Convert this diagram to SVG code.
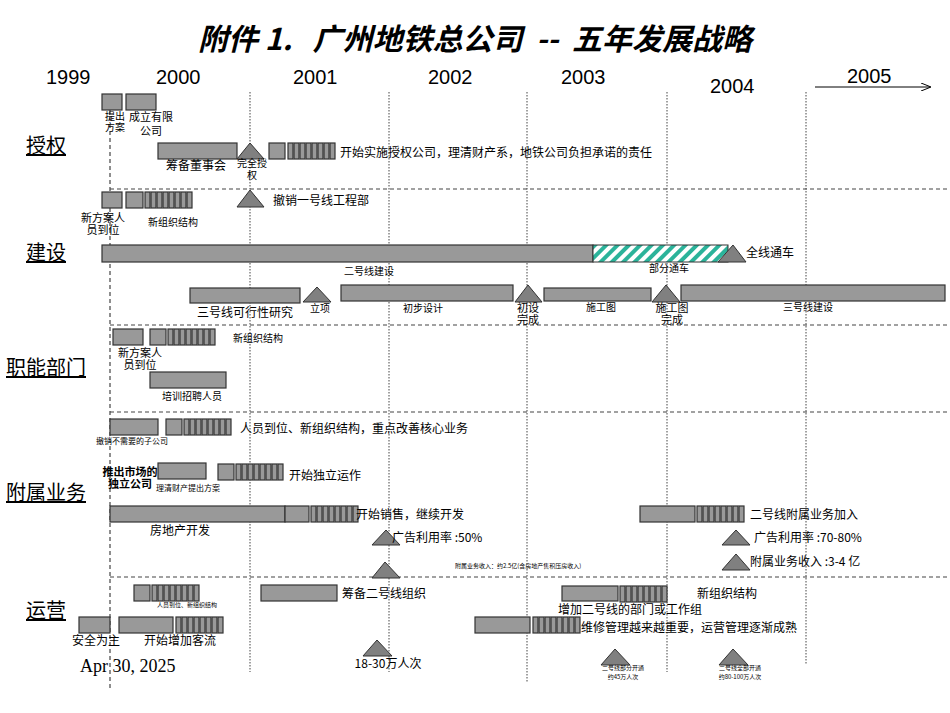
<svg xmlns="http://www.w3.org/2000/svg" xmlns:xlink="http://www.w3.org/1999/xlink" width="950" height="713" viewBox="0 0 950 713">
<style>
text{font-family:"Noto Sans CJK SC","Noto Sans",sans-serif;fill:#000}
.b{fill:#999;stroke:#333;stroke-width:1.2}
.t{fill:#808080;stroke:#333;stroke-width:1}
.dot{stroke:#444;stroke-width:1;stroke-dasharray:1.5,1.5}
.dash{stroke:#444;stroke-width:1.2;stroke-dasharray:4,3}
.s12{font-size:12px}.s11{font-size:11px}.s10{font-size:10px}.s8{font-size:8px}.s6{font-size:6px}
.yr{font-family:"Liberation Sans",Arial,sans-serif;font-size:20px}
.cat{font-size:20px;text-decoration:underline}
.m{text-anchor:middle}
</style>
<defs>
<g id="st"><rect class="b" x="0" y="0" width="5" height="16"/><rect class="b" x="6" y="0" width="5" height="16"/><rect class="b" x="12" y="0" width="5" height="16"/><rect class="b" x="18" y="0" width="5" height="16"/><rect class="b" x="24" y="0" width="5" height="16"/><rect class="b" x="30" y="0" width="5" height="16"/><rect class="b" x="36" y="0" width="5" height="16"/><rect class="b" x="42" y="0" width="5" height="16"/></g>
<pattern id="h" width="8" height="8" patternUnits="userSpaceOnUse" patternTransform="rotate(45)"><rect width="8" height="8" fill="#fff"/><rect width="4" height="8" fill="#2bb39a"/></pattern>
<marker id="ar" markerWidth="10" markerHeight="8" refX="9" refY="4" orient="auto"><path d="M0,0 L10,4 L0,8" fill="none" stroke="#000"/></marker>
</defs>
<text x="475" y="50" class="m" style="font-size:30px;font-weight:bold;font-style:italic;white-space:pre">附件 1.   广州地铁总公司  --  五年发展战略</text>
<g id="years">
<text class="yr" x="46" y="84">1999</text><text class="yr" x="156" y="84">2000</text><text class="yr" x="293" y="84">2001</text><text class="yr" x="428" y="84">2002</text><text class="yr" x="561" y="84">2003</text><text class="yr" x="710" y="93">2004</text><text class="yr" x="847" y="83">2005</text>
</g>
<g id="connectors">
<line x1="815" y1="87" x2="930" y2="87" stroke="#000" marker-end="url(#ar)"/>
<line class="dot" x1="250" y1="92" x2="250" y2="672"/><line class="dot" x1="389" y1="92" x2="389" y2="672"/><line class="dot" x1="527" y1="92" x2="527" y2="682"/><line class="dot" x1="667" y1="92" x2="667" y2="672"/><line class="dot" x1="806" y1="92" x2="806" y2="665"/>
<line class="dash" x1="110" y1="110" x2="110" y2="690"/>
<line class="dash" x1="110" y1="189" x2="950" y2="189"/><line class="dash" x1="110" y1="325" x2="950" y2="325"/><line class="dash" x1="110" y1="412" x2="950" y2="412"/><line class="dash" x1="110" y1="577" x2="950" y2="577"/>
</g>
<g id="cats">
<text class="cat" x="26" y="153">授权</text><text class="cat" x="26" y="260">建设</text><text class="cat" x="6" y="375">职能部门</text><text class="cat" x="6" y="500">附属业务</text><text class="cat" x="26" y="618">运营</text>
</g>
<g id="auth">
<rect class="b" x="102" y="94" width="20" height="16"/><rect class="b" x="126" y="94" width="30" height="16"/>
<text class="s10 m" x="115" y="120">提出</text><text class="s10 m" x="115" y="131">方案</text>
<text class="s11 m" x="151" y="121">成立有限</text><text class="s11 m" x="151" y="135">公司</text>
<rect class="b" x="158" y="143" width="79" height="16"/><text class="s12 m" x="196" y="170">筹备董事会</text>
<polygon class="t" points="250,143 237,159 264,159"/><text class="s10 m" x="252" y="167">完全授</text><text class="s10 m" x="252" y="179">权</text>
<rect class="b" x="269" y="143" width="16" height="16"/><use xlink:href="#st" x="288" y="143"/>
<text class="s12" x="340" y="157">开始实施授权公司，理清财产系，地铁公司负担承诺的责任</text>
<rect class="b" x="102" y="192" width="20" height="16"/><rect class="b" x="126" y="192" width="17" height="16"/><use xlink:href="#st" x="145" y="192"/>
<text class="s11 m" x="103" y="222">新方案人</text><text class="s11 m" x="103" y="234">员到位</text><text class="s10 m" x="173" y="226">新组织结构</text>
<polygon class="t" points="250,190 237,207 264,207"/><text class="s12" x="273" y="205">撤销一号线工程部</text>
</g>
<g id="build">
<rect class="b" x="102" y="245" width="491" height="17"/><rect x="593" y="245" width="135" height="17" fill="url(#h)" stroke="#333"/>
<polygon class="t" points="733,245 718,262 746,262"/><text class="s12" x="746" y="257">全线通车</text>
<text class="s10 m" x="669" y="272">部分通车</text><text class="s10 m" x="369" y="275">二号线建设</text>
<rect class="b" x="190" y="288" width="110" height="15"/><text class="s12 m" x="245" y="317">三号线可行性研究</text>
<polygon class="t" points="317,287 303,302 331,302"/><text class="s10 m" x="320" y="312">立项</text>
<rect class="b" x="341" y="285" width="172" height="16"/><text class="s10 m" x="423" y="312">初步设计</text>
<polygon class="t" points="528,285 515,302 542,302"/><text class="s11 m" x="528" y="312">初设</text><text class="s11 m" x="528" y="324">完成</text>
<rect class="b" x="544" y="288" width="107" height="13"/><text class="s10 m" x="601" y="311">施工图</text>
<polygon class="t" points="666,285 652,302 680,302"/><text class="s11 m" x="672" y="312">施工图</text><text class="s11 m" x="672" y="324">完成</text>
<rect class="b" x="681" y="285" width="264" height="16"/><text class="s10 m" x="808" y="311">三号线建设</text>
</g>
<g id="dept">
<rect class="b" x="113" y="329" width="30" height="16"/><rect class="b" x="150" y="329" width="16" height="16"/><use xlink:href="#st" x="168" y="329"/>
<text class="s10 m" x="258" y="342">新组织结构</text>
<text class="s11 m" x="140" y="357">新方案人</text><text class="s11 m" x="140" y="369">员到位</text>
<rect class="b" x="150" y="372" width="76" height="16"/><text class="s10 m" x="192" y="400">培训招聘人员</text>
</g>
<g id="sub">
<rect class="b" x="110" y="419" width="48" height="16"/><rect class="b" x="166" y="419" width="16" height="16"/><use xlink:href="#st" x="184" y="419"/>
<text class="s8 m" x="132" y="444">撤销不需要的子公司</text><text class="s12" x="240" y="433">人员到位、新组织结构，重点改善核心业务</text>
<text class="s11 m" x="130" y="476" style="font-weight:bold">推出市场的</text><text class="s11 m" x="130" y="488" style="font-weight:bold">独立公司</text>
<rect class="b" x="158" y="463" width="48" height="16"/><text class="s8 m" x="188" y="491">理清财产提出方案</text>
<rect class="b" x="218" y="464" width="16" height="16"/><use xlink:href="#st" x="236" y="464"/><text class="s12" x="289" y="480">开始独立运作</text>
<rect class="b" x="110" y="506" width="175" height="16"/><rect class="b" x="285" y="506" width="24" height="16"/><use xlink:href="#st" x="311" y="506"/>
<text class="s12" x="356" y="519">开始销售，继续开发</text><text class="s12 m" x="180" y="535">房地产开发</text>
<polygon class="t" points="386,530 372,545 400,545"/><text class="s12" x="392" y="542">广告利用率 :50%</text>
<polygon class="t" points="385,562 372,578 400,578"/><text class="s6" x="455" y="568">附属业务收入：约2.5亿(含房地产售积压房收入)</text>
<rect class="b" x="640" y="506" width="55" height="16"/><use xlink:href="#st" x="697" y="506"/><text class="s12" x="750" y="519">二号线附属业务加入</text>
<polygon class="t" points="736,530 722,545 750,545"/><text class="s12" x="754" y="542">广告利用率 :70-80%</text>
<polygon class="t" points="736,554 722,570 750,570"/><text class="s12" x="750" y="566">附属业务收入 :3-4 亿</text>
</g>
<g id="ops">
<rect class="b" x="134" y="585" width="16" height="16"/><use xlink:href="#st" x="152" y="585"/><text class="s6 m" x="187" y="607">人员到位、新组织结构</text>
<rect class="b" x="261" y="585" width="76" height="16"/><text class="s12" x="342" y="598">筹备二号线组织</text>
<rect class="b" x="562" y="586" width="56" height="15"/><use xlink:href="#st" x="620" y="586"/><text class="s12" x="697" y="598">新组织结构</text>
<text class="s12" x="558" y="614">增加二号线的部门或工作组</text>
<rect class="b" x="475" y="617" width="55" height="16"/><use xlink:href="#st" x="533" y="617"/><text class="s12" x="581" y="632">维修管理越来越重要，运营管理逐渐成熟</text>
<rect class="b" x="79" y="617" width="31" height="16"/><text class="s12 m" x="96" y="645">安全为主</text>
<rect class="b" x="119" y="617" width="54" height="16"/><use xlink:href="#st" x="176" y="617"/><text class="s12 m" x="180" y="645">开始增加客流</text>
<text x="80" y="672" style="font-family:'Liberation Serif',serif;font-size:18px">Apr 30, 2025</text>
<polygon class="t" points="377,640 363,656 392,656"/><text class="s12 m" x="388" y="668">18-30万人次</text>
<polygon class="t" points="615,649 601,665 630,665"/><text class="s6 m" x="623" y="670">二号线部分开通</text><text class="s6 m" x="623" y="679">约45万人次</text>
<polygon class="t" points="733,649 719,665 748,665"/><text class="s6 m" x="740" y="670">二号线全部开通</text><text class="s6 m" x="740" y="679">约80-100万人次</text>
</g>
</svg>
